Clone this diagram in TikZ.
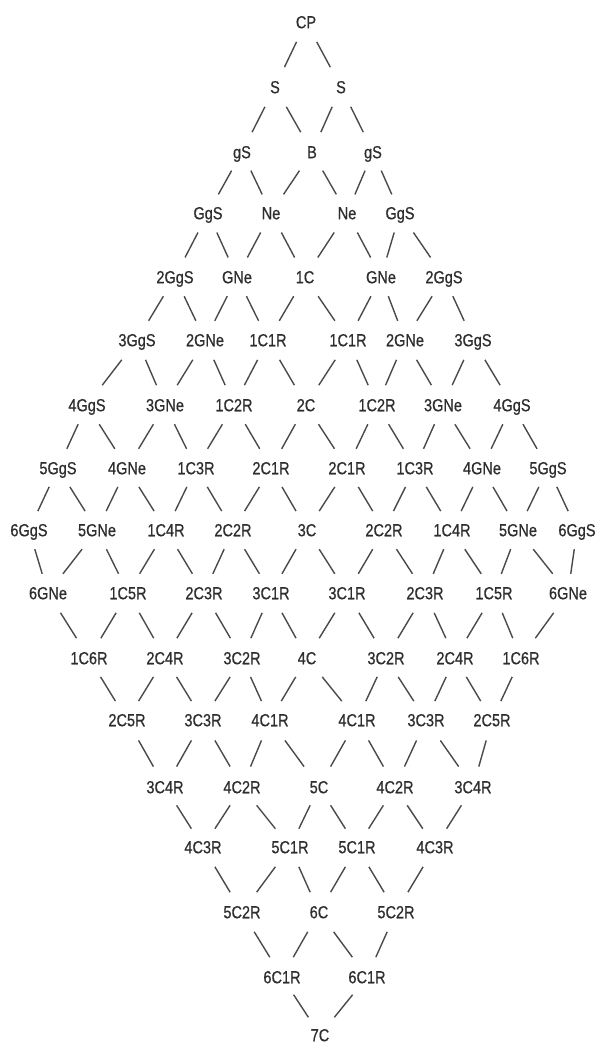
\documentclass[tikz,border=0pt]{standalone}
\usepackage{fontspec}
\usetikzlibrary{calc}
\newfontfamily\lblfont{Liberation Sans}[FakeStretch=0.83,FakeBold=0.6]
\definecolor{txt}{HTML}{2E2E2E}
\definecolor{ln}{HTML}{4A4A4A}
\begin{document}
\begin{tikzpicture}[x=1pt,y=-1pt,
  lbl/.style={inner sep=0pt,text height=12.5pt,text depth=0pt,anchor=center,
    font=\lblfont\fontsize{17.5}{18}\selectfont,text=txt},
  lnk/.style={draw=ln,line width=1.4pt}]
\fill[white] (0,0) rectangle (597,1048);
\useasboundingbox (0,0) rectangle (597,1048);
% rows of labels
\foreach \x/\t [count=\j] in {306/CP} \node[lbl] (r0-\j) at (\x,22) {\t};
\foreach \x/\t [count=\j] in {275/S,341/S} \node[lbl] (r1-\j) at (\x,87) {\t};
\foreach \x/\t [count=\j] in {242/gS,312/B,373/gS} \node[lbl] (r2-\j) at (\x,152) {\t};
\foreach \x/\t [count=\j] in {208/GgS,271/Ne,347/Ne,400/GgS} \node[lbl] (r3-\j) at (\x,213) {\t};
\foreach \x/\t [count=\j] in {175/2GgS,237/GNe,305/1C,381/GNe,444/2GgS} \node[lbl] (r4-\j) at (\x,277) {\t};
\foreach \x/\t [count=\j] in {137/3GgS,205/2GNe,268/1C1R,348/1C1R,405/2GNe,473/3GgS} \node[lbl] (r5-\j) at (\x,340) {\t};
\foreach \x/\t [count=\j] in {87/4GgS,165/3GNe,234/1C2R,306/2C,377/1C2R,443/3GNe,512/4GgS} \node[lbl] (r6-\j) at (\x,405) {\t};
\foreach \x/\t [count=\j] in {58/5GgS,127/4GNe,196/1C3R,271/2C1R,347/2C1R,415/1C3R,482/4GNe,548/5GgS} \node[lbl] (r7-\j) at (\x,468) {\t};
\foreach \x/\t [count=\j] in {29/6GgS,97/5GNe,166/1C4R,233/2C2R,307/3C,384/2C2R,452/1C4R,518/5GNe,577/6GgS} \node[lbl] (r8-\j) at (\x,530) {\t};
\foreach \x/\t [count=\j] in {48/6GNe,128/1C5R,204/2C3R,271/3C1R,347/3C1R,425/2C3R,494/1C5R,568/6GNe} \node[lbl] (r9-\j) at (\x,593) {\t};
\foreach \x/\t [count=\j] in {89/1C6R,165/2C4R,242/3C2R,307/4C,386/3C2R,455/2C4R,521/1C6R} \node[lbl] (r10-\j) at (\x,658) {\t};
\foreach \x/\t [count=\j] in {127/2C5R,203/3C3R,270/4C1R,357/4C1R,426/3C3R,492/2C5R} \node[lbl] (r11-\j) at (\x,720) {\t};
\foreach \x/\t [count=\j] in {165/3C4R,242/4C2R,319/5C,395/4C2R,473/3C4R} \node[lbl] (r12-\j) at (\x,787) {\t};
\foreach \x/\t [count=\j] in {203/4C3R,290/5C1R,357/5C1R,435/4C3R} \node[lbl] (r13-\j) at (\x,847) {\t};
\foreach \x/\t [count=\j] in {242/5C2R,319/6C,396/5C2R} \node[lbl] (r14-\j) at (\x,912) {\t};
\foreach \x/\t [count=\j] in {282/6C1R,367/6C1R} \node[lbl] (r15-\j) at (\x,977) {\t};
\foreach \x/\t [count=\j] in {320/7C} \node[lbl] (r16-\j) at (\x,1035) {\t};
% widening half
\foreach \i in {0,...,7}{
  \pgfmathtruncatemacro\ni{\i+1}
  \foreach \j in {1,...,\ni}{
    \pgfmathtruncatemacro\jj{\j+1}
    \draw[lnk] ($(r\i-\j.center)!0.305!(r\ni-\j.center)$) -- ($(r\i-\j.center)!0.695!(r\ni-\j.center)$);
    \draw[lnk] ($(r\i-\j.center)!0.305!(r\ni-\jj.center)$) -- ($(r\i-\j.center)!0.695!(r\ni-\jj.center)$);
  }
}
% narrowing half
\foreach \i in {8,...,15}{
  \pgfmathtruncatemacro\ni{\i+1}
  \pgfmathtruncatemacro\c{17-\i}
  \foreach \j in {1,...,\c}{
    \pgfmathtruncatemacro\jm{\j-1}
    \ifnum\j>1 \draw[lnk] ($(r\i-\j.center)!0.305!(r\ni-\jm.center)$) -- ($(r\i-\j.center)!0.695!(r\ni-\jm.center)$);\fi
    \ifnum\j<\c \draw[lnk] ($(r\i-\j.center)!0.305!(r\ni-\j.center)$) -- ($(r\i-\j.center)!0.695!(r\ni-\j.center)$);\fi
  }
}
\end{tikzpicture}
\end{document}
